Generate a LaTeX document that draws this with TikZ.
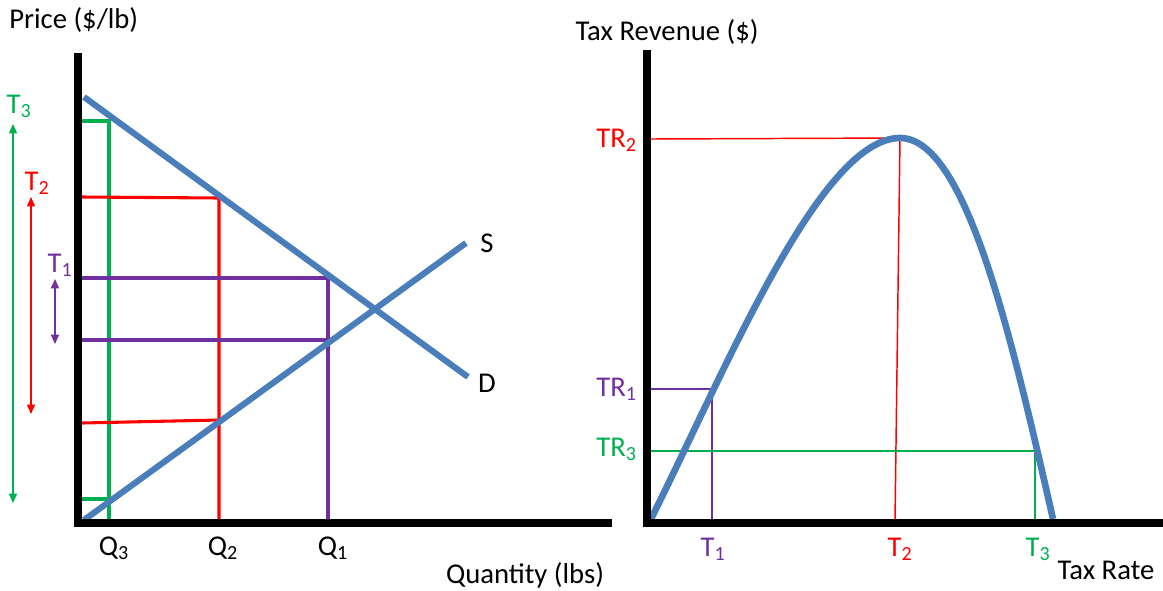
\documentclass[tikz,border=0pt]{standalone}
\usepackage{fontspec}
\setmainfont{Carlito}
\usetikzlibrary{arrows.meta}
\definecolor{cblue}{RGB}{74,126,187}
\definecolor{cgreen}{RGB}{0,176,80}
\definecolor{cred}{RGB}{255,0,0}
\definecolor{cpurple}{RGB}{112,48,160}
\tikzset{
  axis/.style={line width=6pt,black},
  curve/.style={line width=4.6pt,cblue},
  thickc/.style={line width=2.3pt},
  thinc/.style={line width=1.1pt},
  dbl/.style={line width=1.1pt,{Triangle[length=7pt,width=6pt]}-{Triangle[length=7pt,width=6pt]}},
  lbl/.style={inner sep=0pt,font=\fontsize{21.5}{25}\selectfont},
}
\begin{document}
\begin{tikzpicture}[x=0.75pt,y=-0.75pt]
\useasboundingbox (0,0) rectangle (1163,590);
% ---------- left chart ----------
% coloured guides
\coordinate (g1) at (82,121); \coordinate (g2) at (109,121); \coordinate (g3) at (109,522);
\coordinate (g4) at (82,499); \coordinate (g5) at (109,499);
\draw[thickc,cgreen] (g1) -- (g2) -- (g3);
\draw[thickc,cgreen] (g4) -- (g5);
\coordinate (r1) at (82,197); \coordinate (r2) at (219,198); \coordinate (r3) at (219,522);
\coordinate (r4) at (82,423); \coordinate (r5) at (219,420);
\draw[thickc,cred] (r1) -- (r2) -- (r3);
\draw[thickc,cred] (r4) -- (r5);
\coordinate (p1) at (82,278); \coordinate (p2) at (328,278); \coordinate (p3) at (328,522);
\coordinate (p4) at (82,340); \coordinate (p5) at (328,340);
\draw[thickc,cpurple] (p1) -- (p2) -- (p3);
\draw[thickc,cpurple] (p4) -- (p5);
% supply & demand
\coordinate (d0) at (84,97); \coordinate (d1) at (468,377);
\coordinate (s0) at (84,520); \coordinate (s1) at (466,243);
\draw[curve] (d0) -- (d1);
\draw[curve] (s0) -- (s1);
% axes
\coordinate (lyt) at (78,53); \coordinate (lyb) at (78,527);
\coordinate (lxl) at (74,523); \coordinate (lxr) at (612,523);
\draw[axis] (lyt) -- (lyb);
\draw[axis] (lxl) -- (lxr);
% arrows
\coordinate (a3t) at (13,124); \coordinate (a3b) at (13,503);
\coordinate (a2t) at (31,197); \coordinate (a2b) at (31,414);
\coordinate (a1t) at (55,279); \coordinate (a1b) at (55,344);
\draw[dbl,cgreen] (a3t) -- (a3b);
\draw[dbl,cred] (a2t) -- (a2b);
\draw[dbl,cpurple] (a1t) -- (a1b);
% labels
\node[lbl,anchor=west] (price) at (9,20) {Price (\$/lb)};
\node[lbl,cgreen] (T3l) at (19,106) {T\textsubscript{3}};
\node[lbl,cred] (T2l) at (37,183) {T\textsubscript{2}};
\node[lbl,cpurple] (T1l) at (60,265) {T\textsubscript{1}};
\node[lbl] (Q3) at (114,548) {Q\textsubscript{3}};
\node[lbl] (Q2) at (223,548) {Q\textsubscript{2}};
\node[lbl] (Q1) at (333,548) {Q\textsubscript{1}};
\node[lbl] (qty) at (525,575) {Quantity (lbs)};
\node[lbl] (S) at (487,243) {S};
\node[lbl] (D) at (487,383) {D};
% ---------- right chart ----------
\coordinate (peak) at (900,138);
\coordinate (c0) at (650,521);
\coordinate (c1) at (1053,519);
\coordinate (tr2l) at (651,139); \coordinate (t2b) at (895,521);
\coordinate (tr1l) at (651,389); \coordinate (tr1c) at (712,389); \coordinate (t1b) at (712,521);
\coordinate (tr3l) at (651,451); \coordinate (tr3c) at (1035,451); \coordinate (t3b) at (1035,521);
\draw[thinc,cred] (tr2l) -- (peak) -- (t2b);
\draw[thinc,cpurple] (tr1l) -- (tr1c) -- (t1b);
\draw[thinc,cgreen] (tr3l) -- (tr3c) -- (t3b);
\draw[line width=5pt,cblue] (c0) .. controls (725,371) and (820,138) .. (peak)
   .. controls (965,138) and (1010,330) .. (c1);
\coordinate (ryt) at (647,50); \coordinate (ryb) at (647,527);
\coordinate (rxl) at (643,523); \coordinate (rxr) at (1163,523);
\draw[axis] (ryt) -- (ryb);
\draw[axis] (rxl) -- (rxr);
\node[lbl] (trev) at (667,32) {Tax Revenue (\$)};
\node[lbl,cred,anchor=east] (TR2) at (637,140) {TR\textsubscript{2}};
\node[lbl,cpurple,anchor=east] (TR1) at (637,389) {TR\textsubscript{1}};
\node[lbl,cgreen,anchor=east] (TR3) at (637,449) {TR\textsubscript{3}};
\node[lbl,cpurple] (rT1) at (713,549) {T\textsubscript{1}};
\node[lbl,cred] (rT2) at (900,549) {T\textsubscript{2}};
\node[lbl,cgreen] (rT3) at (1038,549) {T\textsubscript{3}};
\node[lbl] (trate) at (1106,570) {Tax Rate};
\end{tikzpicture}
\end{document}
